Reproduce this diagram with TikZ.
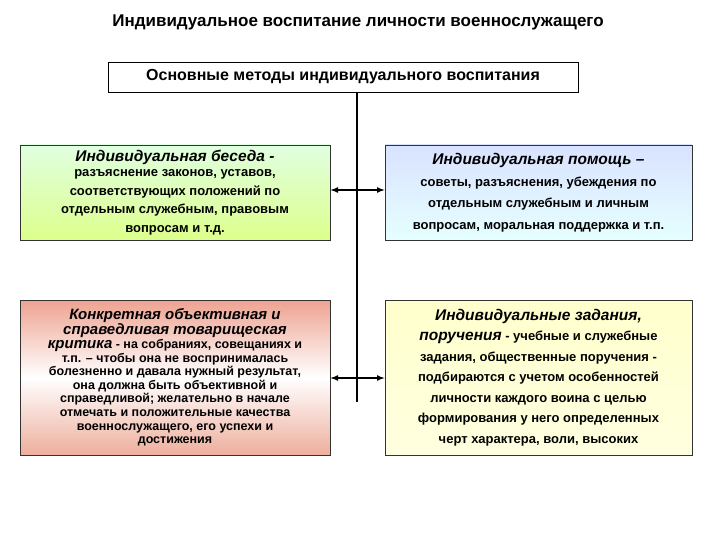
\documentclass[tikz,border=0pt]{standalone}
\usepackage{fontspec}
\setmainfont{Liberation Sans}
\begin{document}
\begin{tikzpicture}[x=1pt,y=-1pt,
  bx/.style={draw=black!80,line width=0.8pt,minimum width=310pt,align=center,inner sep=2pt},
  conn/.style={line width=1.6pt,<->,>=latex}]
\useasboundingbox (0,0) rectangle (720,540);
\node[font=\bfseries\fontsize{17}{19}\selectfont] (title) at (358,22) {Индивидуальное воспитание личности военнослужащего};
\node[draw,line width=0.8pt,minimum width=470pt,minimum height=30pt,fill=white,font=\bfseries\fontsize{16}{18}\selectfont] (hdr) at (343,77) {Основные методы индивидуального воспитания};
\coordinate (top) at (357,92);
\coordinate (bot) at (357,402);
\coordinate (j1) at (357,190);
\coordinate (j2) at (357,378);
\draw[line width=1.6pt] (top) -- (bot);
\node[bx,minimum height=95pt,top color=green!12!white,bottom color=green!30!yellow!45!white,font=\bfseries\fontsize{13}{18.5}\selectfont] (b1) at (175,192.5)
 {{\itshape\fontsize{15.5}{17}\selectfont Индивидуальная беседа -}\\[-3pt]разъяснение законов, уставов,\\соответствующих положений по\\отдельным служебным, правовым\\вопросам и т.д.};
\node[bx,minimum width=307pt,minimum height=95pt,top color=cyan!25!blue!15!white,bottom color=cyan!10!white,font=\bfseries\fontsize{13}{21.5}\selectfont] (b2) at (538.5,192.5)
 {{\itshape\fontsize{15.5}{17}\selectfont Индивидуальная помощь –}\\советы, разъяснения, убеждения по\\отдельным служебным и личным\\вопросам, моральная поддержка и т.п.};
\node[bx,minimum height=155pt,top color=red!45!brown!50!white,bottom color=red!40!brown!45!white,middle color=white,font=\bfseries\fontsize{12.5}{13.6}\selectfont] (b3) at (175,377.5)
 {{\itshape\fontsize{15}{16}\selectfont Конкретная объективная и}\\{\itshape\fontsize{15}{16}\selectfont справедливая товарищеская}\\{\itshape\fontsize{15}{16}\selectfont критика} - на собраниях, совещаниях и\\т.п. – чтобы она не воспринималась\\болезненно и давала нужный результат,\\она должна быть объективной и\\справедливой; желательно в начале\\отмечать и положительные качества\\военнослужащего, его успехи и\\достижения};
\node[bx,minimum width=307pt,minimum height=155pt,top color=yellow!20!white,bottom color=yellow!12!white,font=\bfseries\fontsize{13}{20.5}\selectfont] (b4) at (538.5,377.5)
 {{\itshape\fontsize{15.5}{17}\selectfont Индивидуальные задания,}\\{\itshape\fontsize{15.5}{17}\selectfont поручения} - учебные и служебные\\задания, общественные поручения -\\подбираются с учетом особенностей\\личности каждого воина с целью\\формирования у него определенных\\черт характера, воли, высоких};
\draw[conn] (b1.east |- j1) -- (b2.west |- j1);
\draw[conn] (b3.east |- j2) -- (b4.west |- j2);
\end{tikzpicture}
\end{document}
